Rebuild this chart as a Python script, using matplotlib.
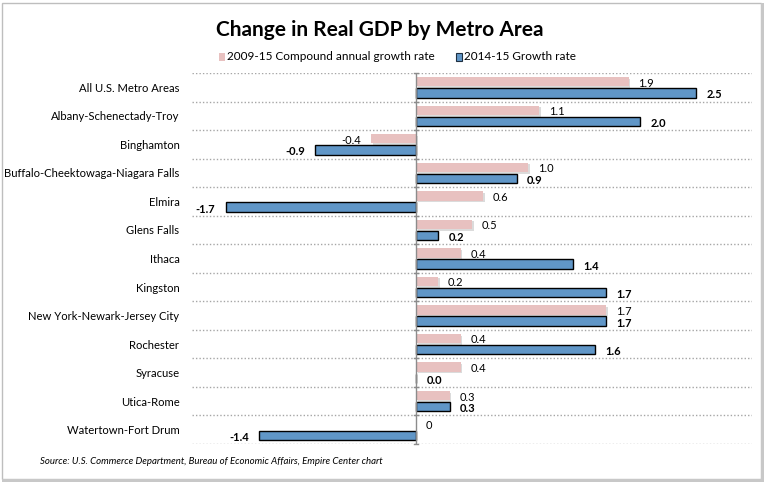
import numpy as np
import matplotlib
matplotlib.use("Agg")
import matplotlib.pyplot as plt
import matplotlib.patheffects as pe
from matplotlib.patches import Rectangle

plt.rcParams['font.family'] = ['Lato', 'DejaVu Sans']

metros = [
    "All U.S. Metro Areas",
    "Albany-Schenectady-Troy",
    "Binghamton",
    "Buffalo-Cheektowaga-Niagara Falls",
    "Elmira",
    "Glens Falls",
    "Ithaca",
    "Kingston",
    "New York-Newark-Jersey City",
    "Rochester",
    "Syracuse",
    "Utica-Rome",
    "Watertown-Fort Drum",
]
cagr_2009_15 = [1.9, 1.1, -0.4, 1.0, 0.6, 0.5, 0.4, 0.2, 1.7, 0.4, 0.4, 0.3, 0.0]
growth_2014_15 = [2.5, 2.0, -0.9, 0.9, -1.7, 0.2, 1.4, 1.7, 1.7, 1.6, 0.0, 0.3, -1.4]
cagr_labels = ["1.9", "1.1", "-0.4", "1.0", "0.6", "0.5", "0.4", "0.2", "1.7", "0.4", "0.4", "0.3", "0"]

PINK = "#E8C1C0"
BLUE = "#6096C7"

W, H = 766, 482
fig = plt.figure(figsize=(W / 100, H / 100), dpi=100)

# chart frame (Excel style, with shadow on right/bottom)
fig.patches.append(Rectangle((2 / W, 3 / H), 759 / W, 476 / H, transform=fig.transFigure,
                             facecolor="white", edgecolor="#BEBEBE", lw=1, zorder=-3))
fig.patches.append(Rectangle((761 / W, 1 / H), 3 / W, 478 / H, transform=fig.transFigure,
                             facecolor="#C8C8C8", edgecolor="none", zorder=-3))
fig.patches.append(Rectangle((2 / W, 0.5 / H), 762 / W, 2.5 / H, transform=fig.transFigure,
                             facecolor="#C8C8C8", edgecolor="none", zorder=-3))

ax = fig.add_axes([192 / W, 1 - 444 / H, 560 / W, 371 / H])
ax.set_zorder(2)
ax.set_facecolor("none")

y = np.arange(len(metros))
off = 0.195
h = 0.33

pink = ax.barh(y - off, cagr_2009_15, height=h, color=PINK, edgecolor="none", zorder=3)
for p in pink:
    p.set_path_effects([pe.SimplePatchShadow(offset=(1.2, -1.2), shadow_rgbFace="#999999", alpha=0.35),
                        pe.Normal()])
blue = ax.barh(y + off, growth_2014_15, height=h, color=BLUE, edgecolor="black", lw=1, zorder=3)

for yi, v, lab in zip(y, cagr_2009_15, cagr_labels):
    sgn = -1 if v < 0 else 1
    ax.annotate(lab, (v, yi - off), xytext=(sgn * 7, -1), textcoords="offset points",
                ha="right" if v < 0 else "left", va="center", fontsize=8, zorder=4)
for yi, v in zip(y, growth_2014_15):
    sgn = -1 if v < 0 else 1
    ax.annotate(f"{v:.1f}", (v, yi + off), xytext=(sgn * 7.5, -1.5), textcoords="offset points",
                ha="right" if v < 0 else "left", va="center", fontsize=8, fontweight="bold", zorder=4)

ax.set_xlim(-2.0, 3.0)
ax.set_ylim(len(metros) - 0.5, -0.5)
for b in np.arange(len(metros) + 1) - 0.5:
    ax.axhline(b, color="#A6A6A6", lw=1, ls=(0, (1, 1.5)), zorder=1)
ax.axvline(0, color="#8C8C8C", lw=1, zorder=5)
for b in np.arange(len(metros) + 1) - 0.5:
    ax.plot([-0.02, 0.02], [b, b], color="#8C8C8C", lw=1, zorder=5, clip_on=False)

ax.set_yticks(y)
ax.set_yticklabels(metros, fontsize=8.1)
ax.tick_params(axis="y", length=0, pad=9)
ax.set_xticks([])
for s in ax.spines.values():
    s.set_visible(False)

fig.text(380 / W, 1 - 30 / H, "Change in Real GDP by Metro Area", ha="center", va="center",
         fontsize=15, fontweight="bold")

# legend
fig.patches.append(Rectangle((219 / W, 1 - 61 / H), 6 / W, 8 / H, transform=fig.transFigure,
                             facecolor=PINK, edgecolor="none"))
fig.text(227 / W, 1 - 57 / H, "2009-15 Compound annual growth rate", ha="left", va="center", fontsize=8.5)
fig.patches.append(Rectangle((456 / W, 1 - 61 / H), 6 / W, 8 / H, transform=fig.transFigure,
                             facecolor=BLUE, edgecolor="#1F2F40", lw=0.8))
fig.text(464 / W, 1 - 57 / H, "2014-15 Growth rate", ha="left", va="center", fontsize=8.5)

fig.text(40 / W, 1 - 462 / H, "Source: U.S. Commerce Department, Bureau of Economic Affairs, Empire Center chart",
         ha="left", va="center", fontsize=6.9, style="italic")

fig.savefig("out.png", dpi=100, facecolor="white")
